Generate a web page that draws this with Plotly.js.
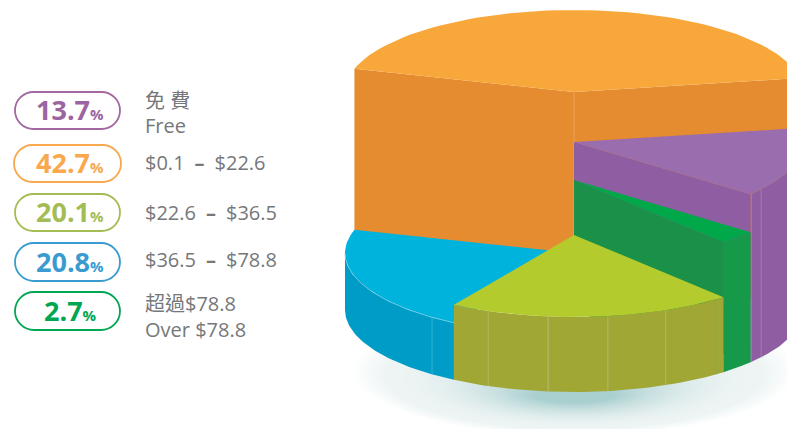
<!DOCTYPE html>
<html><head><meta charset="utf-8">
<script src="https://cdn.plot.ly/plotly-3.0.1.min.js"></script>
<style>html,body{margin:0;padding:0;background:#fff}#c{width:787px;height:429px}</style>
</head><body><div id="c"></div>
<script>
// Data
const categories = ['Free', '$0.1 – $22.6', '$22.6 – $36.5', '$36.5 – $78.8', 'Over $78.8'];
const shares = [13.7, 42.7, 20.1, 20.8, 2.7];
const legendLines = [['免 費', 'Free'], ['$0.1\u2002<b>–</b>\u2002$22.6'], ['$22.6\u2002<b>–</b>\u2002$36.5'], ['$36.5\u2002<b>–</b>\u2002$78.8'], ['超過$78.8', 'Over $78.8']];
const pillColors = ['#A2689F', '#F9A84D', '#A3BC53', '#3A9BD0', '#00A651'];
const numColors  = ['#9C64A0', '#F9A84D', '#A3BC53', '#3A9BD0', '#00A651'];
// Angles run clockwise from the left edge of the orange slice
const sweepOrder = [1, 0, 4, 2, 3];
const drawOrder = [1, 0, 4, 3, 2];
const sliceTopY = {1: 92, 0: 142, 4: 180, 2: 235, 3: 253};
const topColors = {1: '#F8A83B', 0: '#9A6DAE', 4: '#00A84A', 2: '#B4CB2E', 3: '#00B3DC'};
const wallColors = {1: '#E68C30', 0: '#8F5EA2', 4: '#1A9048', 2: '#A0A735', 3: '#009CC8'};
const outerColors = {1: '#E68C30', 0: '#8F5EA2', 4: '#169A49', 2: '#A0A735', 3: '#009CC8'};
const seams = {0: [[-39.2, '#A97FA8'], [-35.2, '#A97FB0']], 2: [[-112, '#B5BC6A'], [-96.5, '#BDC27E'], [-81.5, '#B9BF74'], [-66.4, '#B5BC6A'], [-51.7, '#7FB04A']], 3: [[-128.3, '#3FB6D6']]};

const CX = 574, BASE_Y = 310, RX = 229, RY = 82, START = 163.5;
const rad = d => d * Math.PI / 180;
const px = a => CX + RX * Math.cos(rad(a));
const py = (a, y0) => y0 - RY * Math.sin(rad(a));
function poly(xs, ys, color) {
  return {type: 'scatter', mode: 'lines', x: xs, y: ys, fill: 'toself', fillcolor: color,
    line: {width: 0, color: color}, hoverinfo: 'skip', showlegend: false};
}
function rim(a0, a1, y0) {
  const xs = [], ys = [], n = 60;
  for (let i = 0; i <= n; i++) { const a = a0 + (a1 - a0) * i / n; xs.push(px(a)); ys.push(py(a, y0)); }
  return [xs, ys];
}
const traces = [];
const span = {};
let angle = START;
sweepOrder.forEach(k => {
  const sweep = shares[k] * 3.6;
  span[k] = [angle, angle - sweep];
  angle -= sweep;
});
// Ground shadow: nested opaque ellipses running from white to pale teal
const shapes = [];
const STEPS = 60;
const mix = (a, b, t) => a.map((v, i) => Math.round(v + (b[i] - v) * t));
for (let i = 0; i < STEPS; i++) {
  const s = i / (STEPS - 1);
  const rgb = s < 0.18
    ? mix([255, 255, 255], [238, 244, 244], s / 0.18)
    : mix([238, 244, 244], [169, 207, 207], Math.pow((s - 0.18) / 0.82, 2));
  const rx = 224 - 184 * s, ry = 66 - 58 * s, cy = 370 + 25 * s;
  shapes.push({type: 'circle', layer: 'below', xref: 'x', yref: 'y', line: {width: 0},
    fillcolor: `rgb(${rgb.join(',')})`,
    x0: CX - rx, x1: CX + rx, y0: cy - ry, y1: cy + ry});
}
drawOrder.forEach(k => {
  const [a0, a1] = span[k];
  const y0 = sliceTopY[k];
  const [rx, ry] = rim(a0, a1, y0);
  // cut walls that face the viewer
  if (k === 1) {
    traces.push(poly([CX, px(a0), px(a0), CX], [y0, py(a0, y0), py(a0, BASE_Y), BASE_Y], wallColors[k]));
    traces.push(poly([CX, px(a1), px(a1), CX], [y0, py(a1, y0), py(a1, BASE_Y), BASE_Y], wallColors[k]));
    traces.push({type: 'scatter', mode: 'lines', x: [CX, CX], y: [y0, BASE_Y],
      line: {width: 0.8, color: '#EDA866'}, hoverinfo: 'skip', showlegend: false});
  }
  if (k === 0 || k === 4) {
    traces.push(poly([CX, px(a1), px(a1), CX], [y0, py(a1, y0), py(a1, BASE_Y), BASE_Y], wallColors[k]));
  }
  // outer wall: only the front half of the rim shows
  if (k !== 1) {
    const from = Math.min(a0, 0), to = Math.max(a1, -180);
    const [wx, wy] = rim(from, to, y0);
    const [vx, vy] = rim(to, from, BASE_Y);
    traces.push(poly(wx.concat(vx), wy.concat(vy), outerColors[k]));
  }
  // top face
  traces.push(poly([CX].concat(rx), [y0].concat(ry), topColors[k]));
  if (k === 3) {
    const [ex, ey] = rim(a0, -180, y0);
    traces.push({type: 'scatter', mode: 'lines', x: ex, y: ey, line: {width: 0.7, color: '#7FD3E8'}, hoverinfo: 'skip', showlegend: false});
  }
  (seams[k] || []).forEach(([a, c]) => {
    traces.push({type: 'scatter', mode: 'lines', x: [px(a), px(a)], y: [py(a, y0), py(a, BASE_Y)],
      line: {width: 0.8, color: c}, hoverinfo: 'skip', showlegend: false});
  });
});

// Legend
const pillX = [[15, 120], [14, 121], [15, 120], [15, 120], [15, 120]];
const pillY = [[92, 129], [145, 182], [194, 231], [243, 281], [292, 330]];
const annotations = [];
const ann = (x, y, text, size, color, anchor) => annotations.push({
  xref: 'x', yref: 'y', x, y, text, showarrow: false, xanchor: anchor, yanchor: 'middle',
  font: {family: '"Open Sans","Noto Sans CJK TC",sans-serif', size, color}});
const lineY = [[100, 125], [162], [212], [259], [303, 329]];
shares.forEach((v, i) => {
  const [x0, x1] = pillX[i], [y0, y1] = pillY[i], r = (y1 - y0) / 2, c = r * 0.5523;
  const ym = (y0 + y1) / 2, xa = x0 + r, xb = x1 - r;
  shapes.push({type: 'path', xref: 'x', yref: 'y', line: {color: pillColors[i], width: 1.8}, fillcolor: 'rgba(0,0,0,0)',
    path: `M ${xa} ${y0} L ${xb} ${y0} C ${xb + c} ${y0} ${x1} ${ym - c} ${x1} ${ym} C ${x1} ${ym + c} ${xb + c} ${y1} ${xb} ${y1} L ${xa} ${y1} C ${xa - c} ${y1} ${x0} ${ym + c} ${x0} ${ym} C ${x0} ${ym - c} ${xa - c} ${y0} ${xa} ${y0} Z`});
  ann((x0 + x1) / 2 + 2.5, ym - 1, `<b>${v.toFixed(1)}</b><span style="font-size:15px"><b>%</b></span>`, 27, numColors[i], 'center');
  legendLines[i].forEach((t, j) => ann(143, lineY[i][j], t, 20, '#75777A', 'left'));
});

Plotly.newPlot('c', traces, {
  width: 787, height: 429, margin: {l: 0, r: 0, t: 0, b: 0},
  paper_bgcolor: '#fff', plot_bgcolor: '#fff', showlegend: false,
  xaxis: {range: [0, 787], visible: false, fixedrange: true},
  yaxis: {range: [429, 0], visible: false, fixedrange: true},
  shapes, annotations
}, {displayModeBar: false, staticPlot: true});
</script></body></html>
